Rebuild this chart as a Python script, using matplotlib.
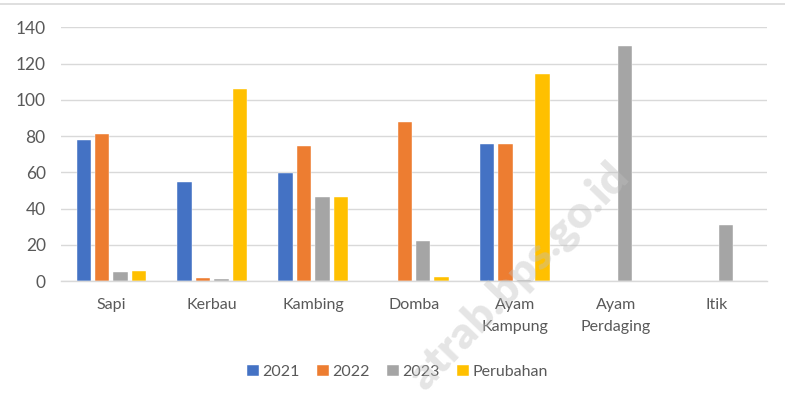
import numpy as np
import matplotlib
matplotlib.use("Agg")
import matplotlib.pyplot as plt
from matplotlib.lines import Line2D

plt.rcParams['font.family'] = ['Lato', 'DejaVu Sans']

# data
categories = ["Sapi", "Kerbau", "Kambing", "Domba", "Ayam\nKampung", "Ayam\nPerdaging", "Itik"]
series_names = ["2021", "2022", "2023", "Perubahan"]
v2021 = [78, 54.6, 59.6, 0, 75.7, 0, 0]
v2022 = [81, 1.5, 74.5, 87.8, 75.7, 0, 0]
v2023 = [5, 1, 46.4, 22, 0.5, 129.7, 30.7]
vperubahan = [5.3, 105.8, 46.4, 2.2, 114.2, 0, 0]
yticks = [0, 20, 40, 60, 80, 100, 120, 140]

colors = ["#4472C4", "#ED7D31", "#A5A5A5", "#FFC000"]
txt = "#595959"

fig = plt.figure(figsize=(7.85, 4.03), dpi=100)
ax = fig.add_axes([61 / 785, 1 - 281 / 403, 706 / 785, (281 - 27.3) / 403])

x = np.arange(len(categories))
pitch = 0.183
width = 0.143
all_vals = [v2021, v2022, v2023, vperubahan]
for i, (vals, name) in enumerate(zip(all_vals, series_names)):
    ax.bar(x + (i - 1.5) * pitch, vals, width, color=colors[i], label=name,
           edgecolor="white", linewidth=0.3, zorder=3)

ax.set_xlim(-0.5, 6.5)
ax.set_ylim(0, 140)
ax.set_yticks(yticks)
ax.set_xticks(x)
ax.set_xticklabels(categories, linespacing=1.75)
ax.tick_params(axis="both", length=0, colors=txt)
ax.tick_params(axis="x", pad=12, labelsize=11.5)
ax.tick_params(axis="y", pad=11, labelsize=12.5)
ax.grid(axis="y", color="#d9d9d9", linewidth=1, zorder=0)
for s in ["top", "right", "left"]:
    ax.spines[s].set_visible(False)
ax.spines["bottom"].set_color("#d9d9d9")
ax.spines["bottom"].set_linewidth(1)
ax.spines["bottom"].set_zorder(4)

leg = fig.legend(loc="center", bbox_to_anchor=(0.506, 1 - 372 / 403), ncol=4,
                 frameon=False, fontsize=11.5, handlelength=0.75, handleheight=0.75,
                 handletextpad=0.2, columnspacing=1.1, labelcolor=txt)

# frame line at the top of the chart area
fig.add_artist(Line2D([0, 1], [1 - 3.5 / 403, 1 - 3.5 / 403], color="#d9d9d9", linewidth=1.2))

# watermark
fig.text(0.66, 0.315, "atrab.bps.go.id", rotation=46, fontsize=32, fontweight="heavy",
         color="#bfbfbf", alpha=0.4, ha="center", va="center", zorder=10)

fig.savefig("out.png", dpi=100)
